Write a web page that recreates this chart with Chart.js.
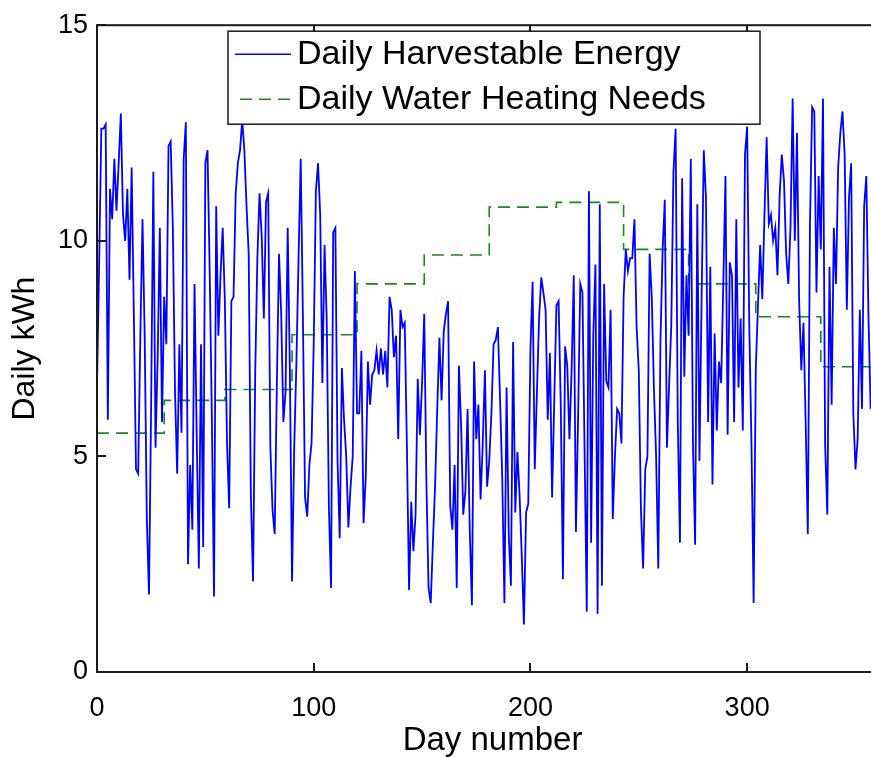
<!DOCTYPE html>
<html>
<head>
<meta charset="utf-8">
<script src="https://cdn.jsdelivr.net/npm/chart.js@4.4.1/dist/chart.umd.min.js"></script>
<style>
    html, body { margin: 0; padding: 0; background: #fff; overflow: hidden; }
    #wrap { width: 889px; height: 757px; }
</style>
</head>
<body>
<div id="wrap"><canvas id="graph" width="889" height="757"></canvas></div>
<script>
// daily harvestable energy (kWh), one value per day starting at day 0
const harvestable = [
    6.6, 9.5, 12.6, 12.6, 12.7, 5.85, 11.2, 10.5, 11.9, 10.7,
    11.8, 12.95, 10.6, 10.0, 11.2, 9.1, 11.7, 8.3, 4.7, 4.6,
    7.8, 10.5, 7.8, 3.5, 1.8, 6.3, 11.6, 5.2, 7.3, 10.3,
    5.8, 8.7, 7.6, 12.2, 12.3, 10.3, 6.5, 4.6, 7.6, 5.55,
    11.9, 12.75, 2.5, 4.8, 3.3, 9.0, 5.5, 2.4, 7.6, 2.9,
    11.8, 12.1, 9.3, 5.9, 1.75, 10.8, 7.8, 9.2, 10.3, 8.6,
    5.3, 3.8, 8.6, 8.7, 11.1, 11.8, 12.1, 12.8, 12.1, 10.8,
    9.7, 4.1, 2.1, 6.9, 9.6, 11.1, 10.1, 8.2, 10.9, 11.1,
    5.2, 3.75, 3.2, 6.7, 9.7, 8.3, 5.8, 6.5, 10.3, 7.0,
    2.1, 5.2, 7.15, 9.6, 11.9, 8.3, 4.05, 3.6, 4.8, 5.3,
    7.6, 11.15, 11.8, 10.6, 6.7, 9.9, 8.2, 3.85, 1.95, 10.2,
    10.3, 4.9, 3.1, 7.05, 5.85, 5.0, 3.35, 4.3, 5.0, 9.3,
    6.0, 6.0, 7.45, 3.45, 4.5, 7.2, 6.2, 6.9, 7.0, 7.45,
    6.9, 7.5, 6.9, 7.45, 6.6, 8.7, 8.4, 7.3, 7.8, 5.4,
    8.4, 8.0, 8.1, 5.25, 1.9, 3.95, 2.8, 3.65, 6.8, 5.5,
    6.7, 8.3, 4.4, 1.95, 1.6, 3.0, 4.3, 6.1, 7.75, 6.3,
    7.9, 8.3, 8.6, 3.85, 3.3, 4.8, 1.95, 7.1, 5.75, 3.65,
    4.2, 6.1, 3.3, 1.55, 7.2, 5.4, 6.2, 4.0, 5.3, 7.0,
    4.3, 4.9, 6.0, 7.6, 7.7, 8.0, 6.3, 4.5, 1.6, 6.6,
    3.2, 2.0, 7.65, 3.7, 5.1, 4.1, 2.7, 1.1, 3.7, 3.9,
    7.45, 9.05, 4.7, 6.5, 8.2, 9.15, 8.8, 8.4, 5.85, 7.4,
    4.05, 6.3, 8.5, 8.6, 6.2, 2.15, 7.55, 7.1, 5.4, 7.0,
    9.2, 3.25, 5.9, 9.0, 8.8, 5.1, 1.4, 11.15, 3.0, 7.8,
    9.45, 1.35, 10.85, 2.0, 9.0, 6.75, 6.6, 8.4, 3.55, 5.0,
    6.1, 6.0, 5.3, 8.7, 9.8, 9.3, 9.6, 9.6, 10.5, 8.0,
    7.0, 3.75, 2.4, 4.7, 5.0, 9.7, 8.7, 6.55, 5.0, 2.4,
    7.65, 9.8, 10.95, 5.2, 6.65, 8.05, 11.6, 12.6, 5.8, 3.0,
    11.45, 6.85, 9.2, 7.8, 11.9, 5.3, 2.95, 10.85, 4.9, 8.7,
    12.1, 11.0, 5.8, 9.4, 4.35, 7.85, 5.6, 7.2, 6.7, 9.0,
    11.5, 5.5, 9.5, 9.2, 5.8, 10.5, 6.6, 8.2, 5.6, 12.0,
    12.65, 8.0, 5.3, 1.6, 7.05, 8.5, 9.9, 8.65, 10.6, 12.4,
    10.4, 10.6, 10.0, 10.3, 9.2, 11.05, 12.0, 11.4, 9.7, 9.0,
    10.3, 13.3, 10.0, 12.5, 8.6, 7.0, 8.1, 5.8, 3.2, 10.4,
    13.1, 13.0, 8.8, 11.5, 9.8, 13.3, 5.25, 3.65, 9.4, 6.2,
    10.3, 9.0, 11.7, 12.5, 13.0, 12.0, 8.4, 11.0, 11.8, 6.0,
    4.7, 5.4, 8.4, 6.1, 10.8, 11.5, 8.2, 6.1
];
const dayNumbers = harvestable.map((v, i) => i);

// monthly water heating needs (kWh/day), level holds from each month start
const monthStarts = [0, 31, 59, 90, 120, 151, 181, 212, 243, 273, 304, 334, 365];
const heatingNeeds = [5.54, 6.3, 6.55, 7.82, 9.0, 9.67, 10.78, 10.89, 9.8, 9.0, 8.24, 7.08, 7.08];

const xTicks = [0, 100, 200, 300];
const yTicks = [0, 5, 10, 15];

const legendLabels = ['Daily Harvestable Energy', 'Daily Water Heating Needs'];
const blue = '#0000ff';
const green = '#168a16';
const dash = [12, 7];

// matlab style box with inward ticks, plus the boxed legend
const matlabBox = {
    id: 'matlabBox',
    afterDatasetsDraw(chart) {
        const ctx = chart.ctx;
        const area = chart.chartArea;
        const xs = chart.scales.x;
        const ys = chart.scales.y;
        const tick = 9;

        ctx.save();
        ctx.strokeStyle = '#1a1a1a';
        ctx.lineWidth = 2;
        ctx.strokeRect(area.left, area.top, area.right - area.left, area.bottom - area.top);
        ctx.beginPath();
        xTicks.forEach(v => {
            const px = Math.round(xs.getPixelForValue(v));
            ctx.moveTo(px, area.bottom);
            ctx.lineTo(px, area.bottom - tick);
            ctx.moveTo(px, area.top);
            ctx.lineTo(px, area.top + tick);
        });
        yTicks.forEach(v => {
            const py = Math.round(ys.getPixelForValue(v));
            ctx.moveTo(area.left, py);
            ctx.lineTo(area.left + tick, py);
            ctx.moveTo(area.right, py);
            ctx.lineTo(area.right - tick, py);
        });
        ctx.stroke();

        // legend
        const lx = area.left + 131;
        const ly = area.top + 6;
        const lw = 532;
        const lh = 93;
        ctx.fillStyle = '#fff';
        ctx.fillRect(lx, ly, lw, lh);
        ctx.lineWidth = 1.5;
        ctx.strokeStyle = '#1a1a1a';
        ctx.strokeRect(lx, ly, lw, lh);

        ctx.lineWidth = 1.5;
        ctx.strokeStyle = blue;
        ctx.beginPath();
        ctx.moveTo(lx + 7, ly + 23);
        ctx.lineTo(lx + 63, ly + 23);
        ctx.stroke();

        ctx.strokeStyle = green;
        ctx.setLineDash(dash);
        ctx.beginPath();
        ctx.moveTo(lx + 12, ly + 68);
        ctx.lineTo(lx + 63, ly + 68);
        ctx.stroke();
        ctx.setLineDash([]);

        ctx.fillStyle = '#000';
        ctx.font = '34px "Liberation Sans", Arial, sans-serif';
        ctx.textBaseline = 'middle';
        ctx.textAlign = 'left';
        ctx.fillText(legendLabels[0], lx + 69, ly + 23);
        ctx.fillText(legendLabels[1], lx + 69, ly + 68);
        ctx.restore();
    }
};

const tickFont = { family: '"Liberation Sans", Arial, sans-serif', size: 27 };

new Chart(document.getElementById('graph'), {
    type: 'line',
    data: {
        datasets: [
            {
                label: legendLabels[0],
                data: dayNumbers.map((d, i) => ({ x: d, y: harvestable[i] })),
                borderColor: blue,
                borderWidth: 1.8,
                pointRadius: 0,
                tension: 0,
                fill: false
            },
            {
                label: legendLabels[1],
                data: monthStarts.map((d, i) => ({ x: d, y: heatingNeeds[i] })),
                borderColor: green,
                borderWidth: 1.6,
                borderDash: dash,
                pointRadius: 0,
                stepped: 'before',
                fill: false
            }
        ]
    },
    options: {
        responsive: false,
        animation: false,
        devicePixelRatio: 1,
        layout: { padding: { left: 0, top: 22, right: 1, bottom: 0 } },
        plugins: {
            legend: { display: false },
            tooltip: { enabled: false }
        },
        scales: {
            x: {
                type: 'linear',
                min: 0,
                max: 365,
                grid: { display: false, drawTicks: false },
                border: { display: false },
                afterBuildTicks(scale) {
                    scale.ticks = xTicks.map(v => ({ value: v }));
                },
                afterFit(scale) { scale.height = 85; },
                ticks: {
                    font: tickFont,
                    color: '#000',
                    padding: 20,
                    maxRotation: 0
                },
                title: {
                    display: true,
                    text: 'Day number',
                    color: '#000',
                    font: { family: '"Liberation Sans", Arial, sans-serif', size: 33, lineHeight: 1 },
                    padding: { top: 0, bottom: 0 }
                }
            },
            y: {
                min: 0,
                max: 15,
                grid: { display: false, drawTicks: false },
                border: { display: false },
                afterBuildTicks(scale) {
                    scale.ticks = yTicks.map(v => ({ value: v }));
                },
                afterFit(scale) { scale.width = 97; },
                ticks: {
                    font: tickFont,
                    color: '#000',
                    padding: 9
                },
                title: {
                    display: true,
                    text: 'Daily kWh',
                    color: '#000',
                    font: { family: '"Liberation Sans", Arial, sans-serif', size: 32, lineHeight: 1 },
                    padding: { top: 9, bottom: 0 }
                }
            }
        }
    },
    plugins: [matlabBox]
});
</script>
</body>
</html>
